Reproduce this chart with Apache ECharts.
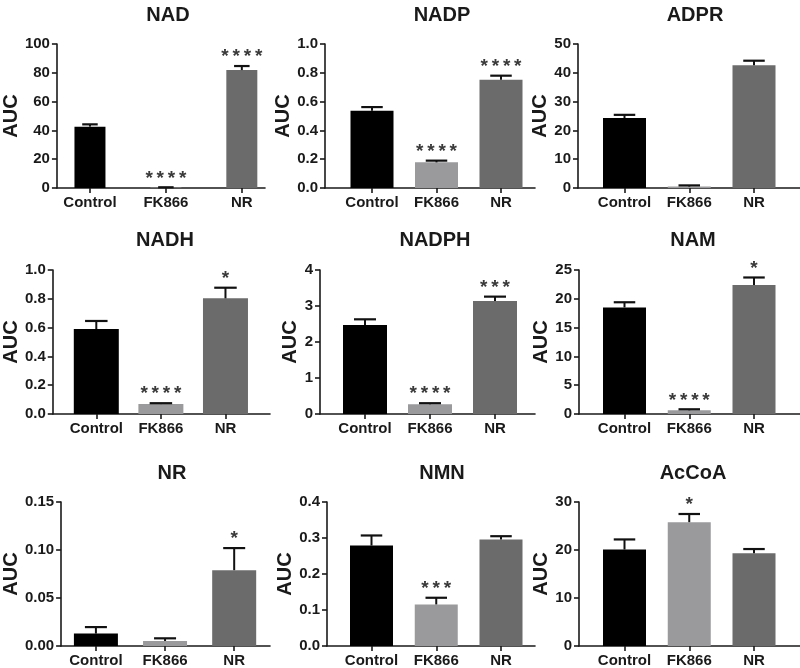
<!DOCTYPE html>
<html>
<head>
<meta charset="utf-8">
<script src="https://cdn.jsdelivr.net/npm/echarts@6/dist/echarts.min.js"></script>
<style>
  html, body { margin: 0; padding: 0; background: #fff; }
  #chart { width: 800px; height: 668px; }
</style>
</head>
<body>
<div id="chart"></div>
<script>
// ---------------- DATA ----------------
const categories = ['Control', 'FK866', 'NR'];
const panelTitles = ['NAD', 'NADP', 'ADPR', 'NADH', 'NADPH', 'NAM', 'NR', 'NMN', 'AcCoA'];

const NAD_mean   = [42.6, 0.3, 81.9];
const NAD_err    = [1.6, 0.2, 2.8];
const NAD_sig    = ['', '****', '****'];

const NADP_mean  = [0.537, 0.178, 0.752];
const NADP_err   = [0.025, 0.012, 0.028];
const NADP_sig   = ['', '****', '****'];

const ADPR_mean  = [24.3, 0.5, 42.6];
const ADPR_err   = [1.1, 0.4, 1.6];
const ADPR_sig   = ['', '', ''];

const NADH_mean  = [0.59, 0.069, 0.803];
const NADH_err   = [0.056, 0.006, 0.074];
const NADH_sig   = ['', '****', '*'];

const NADPH_mean = [2.47, 0.27, 3.14];
const NADPH_err  = [0.16, 0.03, 0.12];
const NADPH_sig  = ['', '****', '***'];

const NAM_mean   = [18.5, 0.64, 22.4];
const NAM_err    = [0.9, 0.18, 1.3];
const NAM_sig    = ['', '****', '*'];

const NR_mean    = [0.0129, 0.0052, 0.079];
const NR_err     = [0.0068, 0.0028, 0.023];
const NR_sig     = ['', '', '*'];

const NMN_mean   = [0.279, 0.1155, 0.296];
const NMN_err    = [0.028, 0.0185, 0.009];
const NMN_sig    = ['', '***', ''];

const AcCoA_mean = [20.1, 25.8, 19.3];
const AcCoA_err  = [2.1, 1.7, 0.9];
const AcCoA_sig  = ['', '*', ''];

// y-axis tick settings (max, step, decimals)
const yMax      = [100, 1.0, 50, 1.0, 4, 25, 0.15, 0.4, 30];
const yStep     = [20, 0.2, 10, 0.2, 1, 5, 0.05, 0.1, 10];
const yDecimals = [0, 1, 0, 1, 0, 0, 2, 1, 0];

const means = [NAD_mean, NADP_mean, ADPR_mean, NADH_mean, NADPH_mean, NAM_mean, NR_mean, NMN_mean, AcCoA_mean];
const errs  = [NAD_err, NADP_err, ADPR_err, NADH_err, NADPH_err, NAM_err, NR_err, NMN_err, AcCoA_err];
const sigs  = [NAD_sig, NADP_sig, ADPR_sig, NADH_sig, NADPH_sig, NAM_sig, NR_sig, NMN_sig, AcCoA_sig];

// ---------------- STYLE / LAYOUT ----------------
const barColors = ['#000000', '#9a9a9c', '#6b6b6b'];
const FONT = '"Liberation Sans", Arial, sans-serif';
const ink = '#1a1a1a';

// rows: [top, bottom, titleCenterY]
const rows = [[44, 188, 12], [270, 414, 237], [502, 647, 470]];
// panels: axisX (y-axis line), axisEnd, first bar centre, pitch, bar width, title centre x, AUC gap
const layout = [
  {ax: 54,  end: 265, c0: 87.5,  pitch: 77,    bw: 31, tx: 163, ng: 34},
  {ax: 325, end: 535, c0: 372,   pitch: 64.5,  bw: 43, tx: 437, ng: 23},
  {ax: 578, end: 800, c0: 624.5, pitch: 64.75, bw: 43, tx: 690, ng: 23},
  {ax: 48,  end: 270, c0: 92.5,  pitch: 66,    bw: 45, tx: 160, ng: 26},
  {ax: 320, end: 535, c0: 365,   pitch: 65,    bw: 44, tx: 430, ng: 17},
  {ax: 579, end: 800, c0: 624.5, pitch: 64.75, bw: 43, tx: 688, ng: 26},
  {ax: 60,  end: 270, c0: 95,    pitch: 69.5,  bw: 44, tx: 167, ng: 40},
  {ax: 327, end: 535, c0: 371.5, pitch: 64.75, bw: 43, tx: 437, ng: 30},
  {ax: 579, end: 800, c0: 624.5, pitch: 64.75, bw: 43, tx: 688, ng: 24}
];

const titles = [], grids = [], xAxes = [], yAxes = [], series = [];

layout.forEach((L, i) => {
  const r = rows[Math.floor(i / 3)];
  const top = r[0], bottom = r[1];
  titles.push({
    text: panelTitles[i], left: L.tx, top: r[2] - 12, textAlign: 'center',
    textStyle: {fontFamily: FONT, fontSize: 20, fontWeight: 'bold', color: ink}
  });
  grids.push({left: L.ax, top: top, width: L.end - L.ax, height: bottom - top, containLabel: false});
  const idx = categories.map((c, k) => k);
  xAxes.push({
    type: 'value', gridIndex: i,
    min: (L.ax - L.c0) / L.pitch, max: (L.end - L.c0) / L.pitch,
    splitLine: {show: false},
    axisLine: {show: true, onZero: false, lineStyle: {color: ink, width: 1.6}},
    axisTick: {show: true, customValues: idx, length: 5, lineStyle: {color: ink, width: 1.6}},
    axisLabel: {
      customValues: idx, margin: 7,
      formatter: v => categories[Math.round(v)],
      fontFamily: FONT, fontSize: 15, fontWeight: 'bold', color: ink
    }
  });
  yAxes.push({
    type: 'value', gridIndex: i, min: 0, max: yMax[i], interval: yStep[i],
    splitLine: {show: false},
    axisLine: {show: true, onZero: false, lineStyle: {color: ink, width: 1.6}},
    axisTick: {show: true, length: 5, lineStyle: {color: ink, width: 1.6}},
    axisLabel: {
      margin: 7, formatter: v => Number(v).toFixed(yDecimals[i]),
      fontFamily: FONT, fontSize: 15, fontWeight: 'bold', color: ink
    },
    name: 'AUC', nameLocation: 'middle', nameRotate: 90, nameGap: L.ng,
    nameTextStyle: {fontFamily: FONT, fontSize: 20, fontWeight: 'bold', color: ink}
  });
  series.push({
    type: 'bar', xAxisIndex: i, yAxisIndex: i, barWidth: L.bw,
    data: means[i].map((v, k) => ({value: [k, v], itemStyle: {color: barColors[k]}})),
    itemStyle: {borderWidth: 0},
    z: 2
  });
  const halfCap = L.bw / 4;
  const sig = sigs[i];
  series.push({
    type: 'custom', xAxisIndex: i, yAxisIndex: i, z: 3,
    data: means[i].map((v, k) => [k, v, errs[i][k]]),
    renderItem: (params, api) => {
      const x = api.value(0), v = api.value(1), e = api.value(2);
      const p0 = api.coord([x, v]);
      const p1 = api.coord([x, v + e]);
      const children = [
        {type: 'line', shape: {x1: p0[0], y1: p0[1], x2: p1[0], y2: p1[1]},
         style: {stroke: '#111', lineWidth: 2}},
        {type: 'line', shape: {x1: p1[0] - halfCap, y1: p1[1], x2: p1[0] + halfCap, y2: p1[1]},
         style: {stroke: '#111', lineWidth: 2.2}}
      ];
      const s = sig[params.dataIndex];
      if (s) {
        children.push({
          type: 'text',
          style: {
            text: s.split('').join('\u2009'), x: p1[0], y: p1[1] - 9,
            align: 'center', verticalAlign: 'middle',
            fontFamily: FONT, fontSize: 19, fontWeight: 'bold', fill: '#3a3a3a'
          }
        });
      }
      return {type: 'group', children};
    }
  });
});

const chart = echarts.init(document.getElementById('chart'), null, {renderer: 'canvas'});
chart.setOption({
  animation: false,
  backgroundColor: '#ffffff',
  title: titles, grid: grids, xAxis: xAxes, yAxis: yAxes, series: series,
  tooltip: {show: false}
});
</script>
</body>
</html>
